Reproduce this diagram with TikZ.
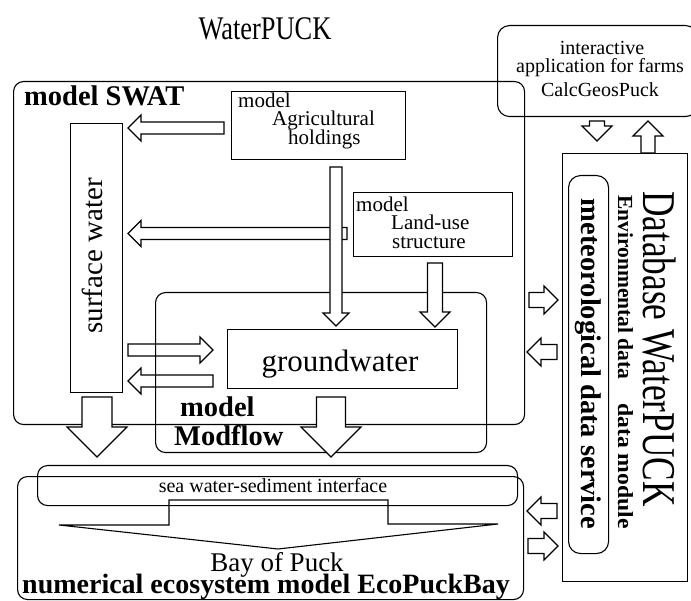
\documentclass[tikz,border=0pt]{standalone}
\usepackage{fontspec}
\setmainfont{Liberation Serif}
\usepackage{graphicx}
\usetikzlibrary{calc}
\newcommand\fs[1]{\fontsize{#1}{#1}\selectfont}
% hollow block arrow: from, to, shaft half width, head half width (= head length)
\newcommand\blockarr[4]{%
  \coordinate (bab) at ($(#2)!#4!(#1)$);
  \draw[blk] ($(#1)!#3!90:(#2)$) -- ($(bab)!#3!-90:(#1)$) -- ($(bab)!#4!-90:(#1)$) -- (#2)
    -- ($(bab)!#4!90:(#1)$) -- ($(bab)!#3!90:(#1)$) -- ($(#1)!#3!-90:(#2)$) -- cycle;}
\begin{document}
\begin{tikzpicture}[x=1pt,y=-1pt,
  box/.style={draw, line width=1.1pt, inner sep=0pt, anchor=north west},
  rbox/.style={box, rounded corners=10pt},
  txt/.style={inner sep=0pt, anchor=base},
  mtxt/.style={inner sep=0pt, anchor=north west, align=left,
    font={\fontsize{21}{18.5}\selectfont\lineskiplimit=-50pt}},
  blk/.style={draw, fill=white, line width=1.1pt, line join=miter},
]
\useasboundingbox (0,0) rectangle (691,601);

% title
\node[txt] (title) at (265,40) {\scalebox{0.8}[1]{\fs{33}WaterPUCK}};

% SWAT frame
\node[rbox, minimum width=511pt, minimum height=343pt] (swat) at (13,81) {};
\node[txt, anchor=base west] (swatlab) at (24,106) {\fs{28.5}\bfseries model SWAT};

% surface water
\node[box, minimum width=52pt, minimum height=269pt] (sw) at (70,123) {};
\node[txt, rotate=90] (swlab) at (102,256) {\fs{29}surface water};

% arrows surface water <-> groundwater
\coordinate (h1s) at (128,350); \coordinate (h1e) at (213,350);
\coordinate (h2s) at (213,381); \coordinate (h2e) at (128,381);
\blockarr{h1s}{h1e}{6pt}{13pt}
\blockarr{h2s}{h2e}{6pt}{13pt}

% Modflow frame
\node[rbox, minimum width=331pt, minimum height=160pt] (modflow) at (155,292) {};
\node[txt, anchor=base west] (mflab1) at (180,417) {\fs{28.5}\bfseries model};
\node[txt, anchor=base west] (mflab2) at (174,446) {\fs{28.5}\bfseries Modflow};

% groundwater
\node[box, minimum width=230pt, minimum height=59pt] (gw) at (227,329) {};
\node[txt] (gwlab) at (340,372) {\fs{31}groundwater};

% agricultural holdings
\node[box, minimum width=174pt, minimum height=68pt] (agri) at (231,91) {};
\node[mtxt] (agritext) at (238,92.6) {model\\\hspace*{34pt}Agricultural\\\hspace*{50pt}holdings};

% land-use structure
\node[box, minimum width=159pt, minimum height=64pt] (land) at (353,192) {};
\node[mtxt] (landtext) at (356,196.6) {model\\\hspace*{35pt}Land-use\\\hspace*{36pt}structure};

% arrows inside SWAT
\coordinate (l1s) at (347,233.5); \coordinate (l1e) at (128,233.5);
\blockarr{l1s}{l1e}{6pt}{13pt}
\coordinate (a1s) at (224,128); \coordinate (a1e) at (128,128);
\blockarr{a1s}{a1e}{6pt}{13pt}
\coordinate (v1s) at (336,167); \coordinate (v1e) at (336,326);
\blockarr{v1s}{v1e}{6pt}{13pt}
\coordinate (v2s) at (435,263); \coordinate (v2e) at (435,327);
\blockarr{v2s}{v2e}{7.5pt}{15pt}

% big down arrows
\coordinate (d1s) at (97,397); \coordinate (d1e) at (97,457);
\blockarr{d1s}{d1e}{15pt}{30pt}
\coordinate (d2s) at (331,397); \coordinate (d2e) at (331,457);
\blockarr{d2s}{d2e}{14.5pt}{30pt}

% CalcGeosPuck
\node[box, rounded corners=12pt, minimum width=200pt, minimum height=91pt] (calc) at (497,25) {};
\node[txt] (calc1) at (602,55) {\fs{20}interactive};
\node[txt] (calc2) at (600,73) {\fs{20}application for farms};
\node[txt] (calc3) at (600,97) {\fs{20}CalcGeosPuck};

% Database
\node[box, minimum width=125pt, minimum height=428pt] (db) at (562,153) {};
\node[box, rounded corners=12pt, minimum width=40pt, minimum height=378pt] (met) at (568,175) {};
\node[txt, rotate=-90] (metlab) at (581,364) {\fs{28.5}\bfseries meteorological data service};
\node[txt, rotate=-90] (envlab) at (618,362) {\fs{21.5}\bfseries Environmental data\hspace{1.1em}\scalebox{1.1}[1]{data module}};
\node[txt, rotate=-90] (dblab) at (643,349) {\scalebox{0.75}[1]{\fs{47}Database WaterPUCK}};

% arrows CalcGeosPuck <-> Database
\coordinate (c1s) at (597,121); \coordinate (c1e) at (597,141);
\blockarr{c1s}{c1e}{7.5pt}{15pt}
\coordinate (c2s) at (648,153); \coordinate (c2e) at (648,121);
\blockarr{c2s}{c2e}{7pt}{15pt}

% arrows SWAT <-> Database
\coordinate (s1s) at (529,300); \coordinate (s1e) at (558,300);
\blockarr{s1s}{s1e}{7.5pt}{14pt}
\coordinate (s2s) at (557,352); \coordinate (s2e) at (527,352);
\blockarr{s2s}{s2e}{7.5pt}{14pt}

% Bay of Puck
\node[rbox, minimum width=506pt, minimum height=123pt] (bay) at (17,476) {};
\node[rbox, minimum width=480pt, minimum height=40pt] (iface) at (37,465) {};
\node[txt] (ifacelab) at (273,493) {\fs{20}sea water-sediment interface};
\draw[line width=1.1pt, line join=miter] (59,525) coordinate (f1) -- (169,525) -- (169,500) -- (388,500) -- (388,524) -- (498,524) -- (278,549) -- cycle;
\node[inner sep=0pt, anchor=north, align=center,
  font={\fontsize{27}{22}\selectfont\lineskiplimit=-50pt}] (baytext) at (266,552.6)
  {\hspace*{22pt}Bay of Puck\\{\fontsize{28}{22}\selectfont\bfseries numerical ecosystem model EcoPuckBay}};

% arrows Bay <-> Database
\coordinate (b1s) at (557,511); \coordinate (b1e) at (527,511);
\blockarr{b1s}{b1e}{7.5pt}{14pt}
\coordinate (b2s) at (528,546); \coordinate (b2e) at (558,546);
\blockarr{b2s}{b2e}{7.5pt}{14pt}
\end{tikzpicture}
\end{document}
